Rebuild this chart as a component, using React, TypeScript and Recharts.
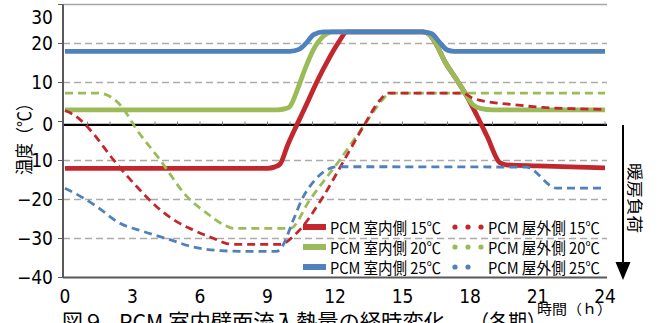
import {
  CartesianGrid,
  Legend,
  Line,
  LineChart,
  ReferenceLine,
  XAxis,
  YAxis,
} from "recharts";

const hourTicks = [0, 3, 6, 9, 12, 15, 18, 21, 24];
const minorHours = [1, 2, 3, 4, 5, 6, 7, 8, 9, 10, 11, 12, 13, 14, 15, 16, 17, 18, 19, 20, 21, 22, 23, 24];
const tempTicks = [-40, -30, -20, -10, 0, 10, 20, 30];
const gridLevels = [-30, -20, -10, 10, 20];

// [hour, ℃]
const inside15: [number, number][] = [
  [0, -12], [9.0, -12], [9.3, -11.7], [9.56, -10.9], [9.9, -6], [10.31, -0.8],
  [10.7, 4], [11.02, 8], [11.24, 10.7], [11.7, 15.8], [12.15, 20.2], [12.53, 23],
  [15.9, 23], [16.2, 22.3], [16.45, 20.3], [16.9, 15.2], [17.35, 11.2], [17.78, 7.3],
  [18.3, 1.6], [18.76, -3.8], [19.33, -10.6], [19.6, -11.1], [21, -11.4], [24, -11.9],
];
const inside20: [number, number][] = [
  [0, 3], [9.45, 3], [9.8, 3.3], [10.0, 3.9], [10.35, 8.5], [10.67, 13.5],
  [11.02, 18.2], [11.47, 21.8], [11.9, 23], [15.9, 23], [16.2, 22.3], [16.45, 20.3],
  [16.9, 15.2], [17.35, 11.2], [17.78, 7.3], [18.13, 4.3], [18.5, 3.3], [19, 3], [24, 3],
];
const inside25: [number, number][] = [
  [0, 18], [10.0, 18], [10.4, 18.5], [10.75, 20.3], [11.05, 22.3], [11.5, 23],
  [15.9, 23], [16.3, 22.5], [16.65, 20.3], [17.0, 18.3], [17.3, 18], [24, 18],
];
const outside15: [number, number][] = [
  [0, 2.8], [0.5, 1.3], [1.11, -2.1], [2.15, -9.8], [3.19, -16.7], [4.22, -22.6],
  [5.0, -25.8], [5.69, -27.8], [6.74, -30.3], [7.19, -31.3], [7.6, -31.5], [9.56, -31.5],
  [10.3, -28.6], [11.48, -19.2], [12.37, -10.3], [13.26, -1.3], [14.0, 5.5], [14.36, 7.3],
  [17.69, 7.3], [18.08, 6.1], [18.4, 5.5], [18.74, 5.1], [20, 4.3], [20.8, 3.8],
  [21.24, 3.6], [22.5, 3.3], [24, 3.1],
];
const outside20: [number, number][] = [
  [0, 7.3], [1.45, 7.3], [2.0, 6.4], [2.52, 3.8], [3.19, -2.1], [4.22, -9.8],
  [5.41, -19.2], [6.3, -23.5], [7.0, -26.3], [7.5, -27.4], [10.0, -27.4], [10.89, -20],
  [12.22, -9.8], [13.41, 0], [14.1, 5.5], [14.45, 7.3], [24, 7.3],
];
const outside25: [number, number][] = [
  [0, -17.1], [0.81, -19.6], [1.41, -21.8], [2.44, -26.1], [3.48, -28.2], [4.67, -30.3],
  [5.7, -32.2], [6.89, -33.1], [8, -33.3], [9.4, -33.3], [9.6, -32.5], [10.15, -25.2],
  [10.52, -20.1], [11.11, -15], [11.63, -12.4], [12.08, -11.6], [20.5, -11.7],
  [21.85, -17.1], [24, -17.1],
];

const RED = "#C1272D";
const GREEN = "#9BBB59";
const BLUE = "#4F81BD";
const NUM_FONT = "'Liberation Sans Narrow', 'Arial Narrow', 'DejaVu Sans Condensed', sans-serif";
const JP_FONT = "'Noto Sans CJK JP', sans-serif";

const pts = (s: [number, number][]) => s.map(([t, v]) => ({ t, v }));

const legendRows = [
  { color: RED, inner: "PCM 室内側 15℃", outer: "PCM 屋外側 15℃", dots: 3 },
  { color: GREEN, inner: "PCM 室内側 20℃", outer: "PCM 屋外側 20℃", dots: 3 },
  { color: BLUE, inner: "PCM 室内側 25℃", outer: "PCM 屋外側 25℃", dots: 2 },
];

function PcmLegend() {
  return (
    <svg width={310} height={60} style={{ display: "block" }}>
      {legendRows.map((r, i) => {
        const cy = 10 + i * 20;
        return (
          <g key={i}>
            <line x1={3} x2={26} y1={cy} y2={cy} stroke={r.color} strokeWidth={6} />
            <text x={30} y={cy} dominantBaseline="central" fontSize={15.5} fontFamily={JP_FONT}
              textLength={111} lengthAdjust="spacingAndGlyphs" fill="#000">{r.inner}</text>
            {Array.from({ length: r.dots }).map((_, k) => (
              <circle key={k} cx={155 + k * 13} cy={cy} r={2.6} fill={r.color} />
            ))}
            <text x={188} y={cy} dominantBaseline="central" fontSize={15.5} fontFamily={JP_FONT}
              textLength={112} lengthAdjust="spacingAndGlyphs" fill="#000">{r.outer}</text>
          </g>
        );
      })}
    </svg>
  );
}

function YTick(props: any) {
  const { x, y, payload } = props;
  const v = payload.value as number;
  const yy = v === 30 ? y + 8 : v === 0 ? y + 3 : y;
  return (
    <text x={x} y={yy} dy="0.36em" textAnchor="end" fontSize={19} fontFamily={NUM_FONT} fill="#000">
      {v < 0 ? `\u2212${Math.abs(v)}` : v}
    </text>
  );
}

export default function App() {
  return (
    <div style={{ position: "absolute", left: 0, top: 0, width: 659, height: 323, background: "#fff" }}>
      <LineChart width={659} height={323} margin={{ top: 4.5, right: 52, bottom: 15.5, left: 0 }}>
        <CartesianGrid horizontal vertical={false} horizontalValues={gridLevels}
          stroke="#ABABAB" strokeWidth={1.5} strokeDasharray="7 4" />
        <XAxis dataKey="t" type="number" domain={[0, 24]} ticks={hourTicks} allowDuplicatedCategory={false}
          padding={{ left: 2, right: 2 }} height={30} tickLine={false} tickSize={6} tickMargin={6.5}
          axisLine={{ stroke: "#595959", strokeWidth: 2 }}
          tick={{ fontSize: 19, fontFamily: NUM_FONT, fill: "#000" }} />
        <YAxis type="number" domain={[-40, 30]} ticks={tempTicks} width={63} tickSize={5} tickMargin={5}
          axisLine={{ stroke: "#595959", strokeWidth: 2 }} tickLine={{ stroke: "#595959" }}
          tick={<YTick />} />
        <YAxis yAxisId="r" orientation="right" type="number" domain={[-40, 30]} width={0}
          tick={false} tickLine={false} axisLine={{ stroke: "#A6A6A6", strokeWidth: 1.5 }} />
        <ReferenceLine y={30} stroke="#A6A6A6" strokeWidth={1.5} />
        <ReferenceLine y={-0.85} stroke="#000" strokeWidth={2.2} />
        {minorHours.map((h) => (
          <ReferenceLine key={h} segment={[{ x: h, y: 0 }, { x: h, y: -0.85 }]} stroke="#808080" />
        ))}
        <Line data={pts(inside15)} dataKey="v" type="monotone" stroke={RED} strokeWidth={4.8}
          dot={false} isAnimationActive={false} />
        <Line data={pts(inside20)} dataKey="v" type="monotone" stroke={GREEN} strokeWidth={4.8}
          dot={false} isAnimationActive={false} />
        <Line data={pts(inside25)} dataKey="v" type="monotone" stroke={BLUE} strokeWidth={4.8}
          dot={false} isAnimationActive={false} />
        <Line data={pts(outside20)} dataKey="v" type="monotone" stroke={GREEN} strokeWidth={2.8}
          strokeDasharray="8 5" dot={false} isAnimationActive={false} />
        <Line data={pts(outside15)} dataKey="v" type="monotone" stroke={RED} strokeWidth={2.8}
          strokeDasharray="8 5" dot={false} isAnimationActive={false} />
        <Line data={pts(outside25)} dataKey="v" type="monotone" stroke={BLUE} strokeWidth={2.8}
          strokeDasharray="8 5" dot={false} isAnimationActive={false} />
        <Legend layout="vertical" align="center" verticalAlign="middle" content={<PcmLegend />}
          wrapperStyle={{ position: "absolute", left: 300, top: 217, width: 310, height: 60 }} />
      </LineChart>
      <svg width={659} height={323} style={{ position: "absolute", left: 0, top: 0, pointerEvents: "none" }}>
        <text transform="translate(23,135) rotate(-90)" textAnchor="middle" dominantBaseline="central"
          fontSize={18} fontFamily={JP_FONT} textLength={80} lengthAdjust="spacingAndGlyphs">温度（℃）</text>
        <text transform="translate(636,198) rotate(90)" textAnchor="middle" dominantBaseline="central"
          fontSize={16} fontFamily={JP_FONT} textLength={70} lengthAdjust="spacingAndGlyphs">暖房負荷</text>
        <line x1={623} x2={623} y1={125} y2={265} stroke="#000" strokeWidth={2} />
        <polygon points="615.5,262 630.5,262 623,280" fill="#000" />
        <text x={537} y={314} fontSize={14} fontFamily={JP_FONT} textLength={75}
          lengthAdjust="spacingAndGlyphs">時間（ｈ）</text>
        <text x={62} y={330} fontSize={22} fontFamily={JP_FONT} textLength={42}
          lengthAdjust="spacingAndGlyphs">図９</text>
        <text x={119} y={330} fontSize={22} fontFamily={JP_FONT} textLength={326}
          lengthAdjust="spacingAndGlyphs">PCM 室内壁面流入熱量の経時変化</text>
        <text x={470} y={330} fontSize={22} fontFamily={JP_FONT} textLength={76}
          lengthAdjust="spacingAndGlyphs">（各期）</text>
      </svg>
    </div>
  );
}
